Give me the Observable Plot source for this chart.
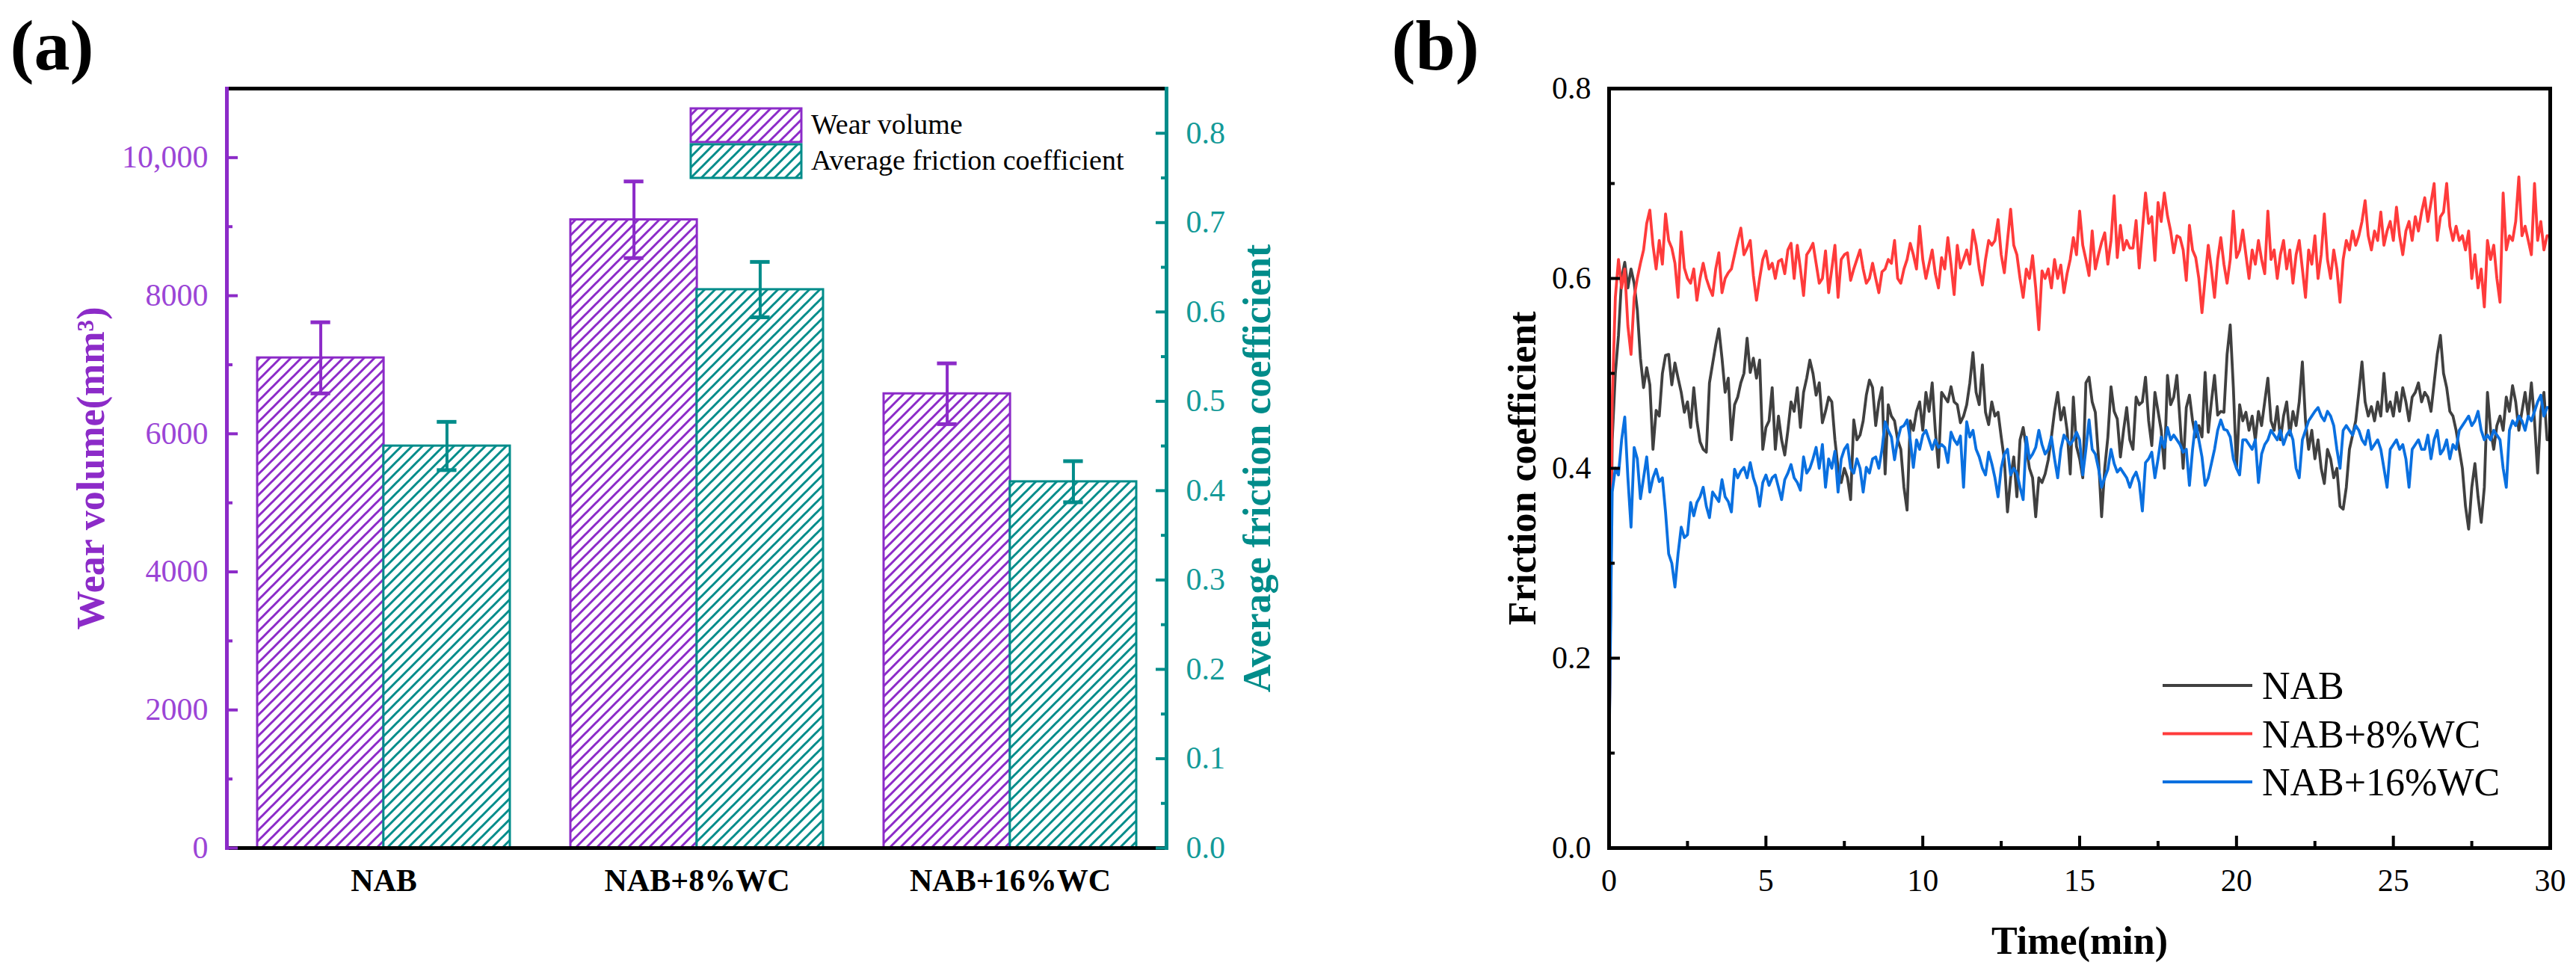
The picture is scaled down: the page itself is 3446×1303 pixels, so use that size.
<!DOCTYPE html>
<html><head><meta charset="utf-8">
<script src="https://cdn.jsdelivr.net/npm/d3@7"></script>
<script src="https://cdn.jsdelivr.net/npm/@observablehq/plot@0.6"></script>
<style>
html,body{margin:0;padding:0;background:#fff;}
#page{position:relative;width:3446px;height:1303px;overflow:hidden;background:#fff;}
#page svg{position:absolute;top:0;}
#page svg text{font-family:'Liberation Serif','Times New Roman',serif;}
</style></head><body><div id="page"></div>
<script>
// ---------- data: panel (a) ----------
const categories = ["NAB", "NAB+8%WC", "NAB+16%WC"];
const wearVolume = [7100, 9100, 6580];
const wearError = [515, 555, 440];
const avgFriction = [0.45, 0.625, 0.41];
const frictionError = [0.027, 0.031, 0.023];
const wearTicks = [0, 2000, 4000, 6000, 8000, 10000];
const wearMinorTicks = [1000, 3000, 5000, 7000, 9000];
const frictionTicks = [0, 0.1, 0.2, 0.3, 0.4, 0.5, 0.6, 0.7, 0.8];
const frictionMinorTicks = [0.05, 0.15, 0.25, 0.35, 0.45, 0.55, 0.65, 0.75];
const legendA = ["Wear volume", "Average friction coefficient"];

// ---------- data: panel (b) ----------
const seriesNames = ["NAB", "NAB+8%WC", "NAB+16%WC"];
const sampleStepMin = 0.1;
const timeTicks = [0, 5, 10, 15, 20, 25, 30];
const timeMinorTicks = [2.5, 7.5, 12.5, 17.5, 22.5, 27.5];
const coefTicks = [0, 0.2, 0.4, 0.6, 0.8];
const coefMinorTicks = [0.1, 0.3, 0.5, 0.7];
const nabCurve = [
0.10,0.43,0.50,0.54,0.60,0.617,0.59,0.61,0.595,0.567,
0.516,0.485,0.506,0.488,0.42,0.461,0.455,0.50,0.519,0.52,
0.488,0.511,0.495,0.48,0.459,0.47,0.443,0.485,0.45,0.428,
0.42,0.417,0.49,0.51,0.53,0.547,0.516,0.48,0.495,0.43,
0.467,0.475,0.49,0.50,0.537,0.501,0.516,0.495,0.514,0.42,
0.443,0.45,0.485,0.42,0.455,0.43,0.414,0.44,0.47,0.46,
0.485,0.443,0.48,0.495,0.514,0.50,0.477,0.49,0.448,0.46,
0.475,0.47,0.43,0.40,0.385,0.40,0.39,0.367,0.451,0.43,
0.435,0.45,0.477,0.493,0.485,0.445,0.47,0.485,0.394,0.467,
0.455,0.45,0.43,0.42,0.38,0.356,0.45,0.44,0.46,0.47,
0.44,0.48,0.46,0.49,0.44,0.401,0.48,0.475,0.47,0.486,
0.47,0.467,0.448,0.455,0.467,0.49,0.522,0.48,0.467,0.509,
0.459,0.446,0.47,0.455,0.459,0.433,0.409,0.354,0.39,0.412,
0.37,0.43,0.443,0.422,0.40,0.39,0.349,0.39,0.385,0.394,
0.409,0.433,0.46,0.48,0.451,0.464,0.44,0.394,0.475,0.423,
0.41,0.39,0.49,0.496,0.47,0.459,0.412,0.349,0.40,0.433,
0.486,0.46,0.452,0.412,0.44,0.464,0.43,0.42,0.475,0.467,
0.47,0.496,0.45,0.424,0.48,0.46,0.44,0.40,0.498,0.467,
0.475,0.498,0.45,0.40,0.464,0.477,0.45,0.433,0.445,0.433,
0.501,0.438,0.47,0.498,0.456,0.46,0.459,0.52,0.551,0.485,
0.40,0.467,0.45,0.459,0.44,0.455,0.43,0.46,0.445,0.47,
0.495,0.45,0.44,0.465,0.43,0.455,0.47,0.435,0.46,0.445,
0.47,0.512,0.45,0.42,0.44,0.41,0.43,0.40,0.384,0.42,
0.41,0.39,0.40,0.36,0.357,0.38,0.42,0.435,0.45,0.48,
0.512,0.47,0.455,0.465,0.45,0.47,0.455,0.50,0.46,0.47,
0.455,0.48,0.46,0.485,0.47,0.45,0.475,0.48,0.49,0.47,
0.48,0.475,0.46,0.49,0.52,0.54,0.50,0.485,0.46,0.455,
0.44,0.42,0.40,0.36,0.336,0.38,0.405,0.37,0.343,0.38,
0.48,0.44,0.42,0.445,0.455,0.44,0.475,0.46,0.487,0.47,
0.44,0.46,0.48,0.455,0.49,0.45,0.395,0.46,0.48,0.43,
0.43];
const wc8Curve = [
0.09,0.47,0.58,0.62,0.59,0.61,0.55,0.52,0.58,0.60,
0.616,0.63,0.658,0.672,0.635,0.61,0.64,0.615,0.668,0.64,
0.632,0.616,0.58,0.649,0.611,0.60,0.595,0.61,0.577,0.60,
0.616,0.60,0.59,0.582,0.61,0.627,0.585,0.60,0.606,0.61,
0.625,0.64,0.653,0.625,0.632,0.64,0.603,0.577,0.60,0.62,
0.629,0.61,0.616,0.60,0.618,0.62,0.605,0.63,0.637,0.60,
0.635,0.61,0.582,0.625,0.63,0.637,0.616,0.595,0.60,0.629,
0.585,0.61,0.635,0.58,0.62,0.625,0.627,0.598,0.61,0.62,
0.63,0.61,0.595,0.60,0.616,0.60,0.585,0.607,0.61,0.62,
0.616,0.64,0.60,0.595,0.61,0.62,0.637,0.625,0.61,0.655,
0.62,0.60,0.615,0.63,0.605,0.59,0.622,0.61,0.643,0.615,
0.583,0.635,0.611,0.62,0.63,0.615,0.651,0.635,0.61,0.593,
0.62,0.64,0.635,0.64,0.662,0.625,0.606,0.64,0.673,0.635,
0.625,0.60,0.58,0.61,0.60,0.624,0.59,0.546,0.608,0.60,
0.61,0.59,0.62,0.60,0.614,0.585,0.605,0.62,0.643,0.625,
0.671,0.635,0.62,0.603,0.65,0.61,0.625,0.638,0.648,0.615,
0.64,0.687,0.622,0.656,0.63,0.64,0.632,0.632,0.661,0.611,
0.65,0.69,0.658,0.665,0.619,0.68,0.66,0.69,0.666,0.65,
0.627,0.645,0.643,0.63,0.598,0.656,0.63,0.622,0.60,0.564,
0.60,0.635,0.61,0.58,0.62,0.643,0.615,0.595,0.62,0.671,
0.622,0.63,0.651,0.625,0.60,0.63,0.615,0.64,0.62,0.605,
0.671,0.62,0.63,0.60,0.625,0.64,0.61,0.63,0.595,0.625,
0.64,0.61,0.58,0.63,0.615,0.645,0.60,0.625,0.668,0.62,
0.60,0.63,0.61,0.575,0.62,0.64,0.63,0.65,0.635,0.645,
0.66,0.682,0.645,0.63,0.65,0.64,0.67,0.635,0.65,0.66,
0.64,0.675,0.645,0.625,0.65,0.66,0.64,0.665,0.65,0.67,
0.685,0.66,0.68,0.70,0.64,0.665,0.67,0.70,0.655,0.64,
0.655,0.64,0.645,0.63,0.65,0.60,0.625,0.59,0.61,0.57,
0.64,0.62,0.635,0.60,0.575,0.69,0.63,0.645,0.64,0.66,
0.707,0.645,0.655,0.64,0.625,0.70,0.64,0.66,0.63,0.645,
0.645];
const wc16Curve = [
0.10,0.375,0.40,0.393,0.43,0.454,0.39,0.338,0.422,0.41,
0.368,0.39,0.412,0.375,0.39,0.399,0.386,0.39,0.354,0.31,
0.30,0.275,0.31,0.338,0.327,0.33,0.364,0.35,0.364,0.37,
0.38,0.36,0.348,0.375,0.37,0.365,0.388,0.37,0.365,0.354,
0.399,0.39,0.397,0.401,0.39,0.406,0.39,0.38,0.36,0.385,
0.393,0.382,0.39,0.393,0.38,0.367,0.388,0.395,0.404,0.39,
0.385,0.377,0.412,0.395,0.40,0.41,0.422,0.40,0.425,0.38,
0.41,0.40,0.418,0.375,0.41,0.42,0.425,0.40,0.395,0.41,
0.40,0.375,0.401,0.395,0.41,0.412,0.40,0.42,0.449,0.44,
0.433,0.409,0.43,0.443,0.445,0.451,0.43,0.401,0.43,0.42,
0.435,0.44,0.43,0.42,0.43,0.422,0.425,0.422,0.406,0.438,
0.43,0.425,0.434,0.38,0.449,0.433,0.44,0.42,0.412,0.40,
0.393,0.417,0.405,0.39,0.37,0.40,0.415,0.42,0.393,0.40,
0.395,0.38,0.367,0.433,0.41,0.415,0.422,0.44,0.425,0.415,
0.42,0.433,0.41,0.39,0.42,0.435,0.43,0.425,0.43,0.438,
0.43,0.393,0.42,0.451,0.42,0.415,0.40,0.38,0.39,0.399,
0.42,0.405,0.396,0.40,0.395,0.39,0.38,0.39,0.396,0.385,
0.355,0.406,0.41,0.417,0.39,0.41,0.433,0.422,0.443,0.43,
0.435,0.43,0.425,0.417,0.42,0.382,0.42,0.449,0.43,0.412,
0.382,0.39,0.405,0.42,0.44,0.451,0.441,0.44,0.433,0.41,
0.40,0.393,0.43,0.43,0.425,0.42,0.43,0.385,0.415,0.425,
0.43,0.44,0.435,0.43,0.44,0.425,0.435,0.44,0.43,0.40,
0.39,0.43,0.44,0.45,0.455,0.46,0.464,0.455,0.45,0.46,
0.455,0.445,0.42,0.40,0.44,0.445,0.44,0.435,0.445,0.44,
0.43,0.425,0.44,0.42,0.425,0.43,0.42,0.40,0.38,0.42,
0.425,0.43,0.42,0.425,0.41,0.38,0.42,0.425,0.43,0.42,
0.42,0.435,0.41,0.43,0.44,0.415,0.42,0.43,0.41,0.425,
0.42,0.44,0.445,0.45,0.455,0.445,0.45,0.46,0.44,0.43,
0.435,0.43,0.44,0.435,0.43,0.40,0.38,0.44,0.45,0.445,
0.455,0.45,0.44,0.455,0.45,0.46,0.47,0.477,0.455,0.464,
0.464];

// ---------- styles ----------
const FONT = "'Liberation Serif','Times New Roman',serif";
const PURPLE = "#8C2BC8", PURPLE_TXT = "#9B45D6";
const TEAL = "#008C8A", TEAL_TXT = "#139A98";
const LINE_COLORS = ["#404040", "#FF3B3B", "#0A70E0"];
const H = 1303;
const page = document.getElementById("page");
const noText = () => "";

// ---------- panel (a) ----------
const WA = 1800, aL = 303, aR = 1560, fTop = 118, fBot = 1134;
const k = 11000 / 0.85;
const padIn = 0.194;
const step = (aR - aL) / categories.length;
const bw = step * (1 - padIn);
const capHalf = 13;
const rowsA = categories.map((c, i) => ({
  cat: c,
  wear: wearVolume[i], wLo: wearVolume[i] - wearError[i], wHi: wearVolume[i] + wearError[i],
  fric: avgFriction[i] * k, fLo: (avgFriction[i] - frictionError[i]) * k, fHi: (avgFriction[i] + frictionError[i]) * k
}));
const capsW = rowsA.flatMap(r => [{cat: r.cat, y: r.wLo}, {cat: r.cat, y: r.wHi}]);
const capsF = rowsA.flatMap(r => [{cat: r.cat, y: r.fLo}, {cat: r.cat, y: r.fHi}]);

const svgA = Plot.plot({
  width: WA, height: H,
  marginLeft: aL, marginRight: WA - aR, marginTop: fTop, marginBottom: H - fBot,
  style: {fontFamily: FONT, background: "transparent", overflow: "visible"},
  x: {type: "band", domain: categories, paddingInner: padIn, paddingOuter: padIn / 2, align: 0.5},
  y: {domain: [0, 11000]},
  marks: [
    Plot.barY(rowsA, {x: "cat", y: "wear", insetRight: bw / 2, fill: "url(#hatchWear)", stroke: PURPLE, strokeWidth: 3}),
    Plot.barY(rowsA, {x: "cat", y: "fric", insetLeft: bw / 2, fill: "url(#hatchFric)", stroke: TEAL, strokeWidth: 3}),
    Plot.ruleX(rowsA, {x: "cat", y1: "wLo", y2: "wHi", dx: -bw / 4, stroke: PURPLE, strokeWidth: 4}),
    Plot.ruleX(rowsA, {x: "cat", y1: "fLo", y2: "fHi", dx: bw / 4, stroke: TEAL, strokeWidth: 4}),
    Plot.tickY(capsW, {x: "cat", y: "y", insetLeft: bw / 4 - capHalf, insetRight: 3 * bw / 4 - capHalf, stroke: PURPLE, strokeWidth: 5}),
    Plot.tickY(capsF, {x: "cat", y: "y", insetLeft: 3 * bw / 4 - capHalf, insetRight: bw / 4 - capHalf, stroke: TEAL, strokeWidth: 5}),
    // frame sides
    Plot.frame({anchor: "top", stroke: "black", strokeWidth: 5}),
    Plot.frame({anchor: "bottom", stroke: "black", strokeWidth: 5}),
    Plot.frame({anchor: "left", stroke: PURPLE, strokeWidth: 5}),
    Plot.frame({anchor: "right", stroke: TEAL, strokeWidth: 5}),
    // left axis (inward ticks)
    Plot.axisY({ticks: wearTicks, tickSize: 15, dx: 15, tickFormat: noText, label: null, stroke: PURPLE, strokeWidth: 4}),
    Plot.axisY({ticks: wearMinorTicks, tickSize: 8, dx: 8, tickFormat: noText, label: null, stroke: PURPLE, strokeWidth: 4}),
    Plot.axisY({ticks: wearTicks, tickSize: 0, tickPadding: 25, label: null, fontSize: 42, fill: PURPLE_TXT,
      tickFormat: d => d === 10000 ? "10,000" : String(d)}),
    // right axis
    Plot.axisY({anchor: "right", ticks: frictionTicks.map(v => v * k), tickSize: 15, dx: -15, tickFormat: noText, label: null, stroke: TEAL, strokeWidth: 4}),
    Plot.axisY({anchor: "right", ticks: frictionMinorTicks.map(v => v * k), tickSize: 8, dx: -8, tickFormat: noText, label: null, stroke: TEAL, strokeWidth: 4}),
    Plot.axisY({anchor: "right", ticks: frictionTicks.map(v => v * k), tickSize: 0, tickPadding: 26, label: null, fontSize: 42, fill: TEAL_TXT,
      tickFormat: v => (v / k).toFixed(1)}),
    // category axis
    Plot.axisX({tickSize: 0, tickPadding: 28, label: null, fontSize: 42, fontWeight: "bold", fill: "black"}),
    // axis titles
    Plot.text(["Wear volume(mm³)"], {frameAnchor: "left", rotate: -90, textAnchor: "middle", dx: -165, lineAnchor: "bottom", fontSize: 52, fontWeight: "bold", fill: PURPLE}),
    Plot.text(["Average friction coefficient"], {frameAnchor: "right", rotate: -90, textAnchor: "middle", dx: 138, lineAnchor: "bottom", fontSize: 52, fontWeight: "bold", fill: TEAL}),
    Plot.text(["(a)"], {frameAnchor: "top-left", textAnchor: "start", lineAnchor: "bottom", dx: 13 - aL, dy: 92 - fTop, fontSize: 96, fontWeight: "bold", fill: "black"})
  ]
});
svgA.style.left = "0px";
page.appendChild(svgA);

function addHatch(svg, id, color) {
  const defs = d3.select(svg).insert("defs", ":first-child");
  const s = 14;
  const p = defs.append("pattern").attr("id", id).attr("patternUnits", "userSpaceOnUse").attr("width", s).attr("height", s);
  p.append("rect").attr("width", s).attr("height", s).attr("fill", "white");
  p.append("path").attr("d", `M-3,3L3,-3M0,${s}L${s},0M${s - 3},${s + 3}L${s + 3},${s - 3}`)
    .attr("stroke", color).attr("stroke-width", 3).attr("fill", "none");
}
addHatch(svgA, "hatchWear", PURPLE);
addHatch(svgA, "hatchFric", TEAL);

// ---------- panel (b) ----------
const BX = 1800, WB = 1646, bL = 2152, bR = 3411;
const lineRows = [nabCurve, wc8Curve, wc16Curve].map((arr, s) =>
  arr.map((f, i) => ({t: +(i * sampleStepMin).toFixed(1), f, series: seriesNames[s]})));

const svgB = Plot.plot({
  width: WB, height: H,
  marginLeft: bL - BX, marginRight: BX + WB - bR, marginTop: fTop, marginBottom: H - fBot,
  style: {fontFamily: FONT, background: "transparent", overflow: "visible"},
  x: {domain: [0, 30]},
  y: {domain: [0, 0.8]},
  marks: [
    ...lineRows.map((rows, s) => Plot.line(rows, {x: "t", y: "f", stroke: LINE_COLORS[s], strokeWidth: 3.8})),
    Plot.frame({stroke: "black", strokeWidth: 5}),
    Plot.axisY({ticks: coefTicks, tickSize: 15, dx: 15, tickFormat: noText, label: null, stroke: "black", strokeWidth: 4}),
    Plot.axisY({ticks: coefMinorTicks, tickSize: 8, dx: 8, tickFormat: noText, label: null, stroke: "black", strokeWidth: 4}),
    Plot.axisY({ticks: coefTicks, tickSize: 0, tickPadding: 24, label: null, fontSize: 42, fill: "black", tickFormat: v => v.toFixed(1)}),
    Plot.axisX({ticks: timeTicks, tickSize: 16, dy: -16, tickFormat: noText, label: null, stroke: "black", strokeWidth: 4}),
    Plot.axisX({ticks: timeMinorTicks, tickSize: 9, dy: -9, tickFormat: noText, label: null, stroke: "black", strokeWidth: 4}),
    Plot.axisX({ticks: timeTicks, tickSize: 0, tickPadding: 28, label: null, fontSize: 42, fill: "black", tickFormat: d => String(d)}),
    Plot.text(["Friction coefficient"], {frameAnchor: "left", rotate: -90, textAnchor: "middle", dx: 2053 - bL, lineAnchor: "bottom", fontSize: 52, fontWeight: "bold", fill: "black"}),
    Plot.text(["Time(min)"], {frameAnchor: "bottom", textAnchor: "middle", lineAnchor: "bottom", dy: 1275 - fBot, fontSize: 52, fontWeight: "bold", fill: "black"}),
    Plot.text(["(b)"], {frameAnchor: "top-left", textAnchor: "start", lineAnchor: "bottom", dx: 1861 - bL, dy: 92 - fTop, fontSize: 96, fontWeight: "bold", fill: "black"})
  ]
});
svgB.style.left = BX + "px";
page.appendChild(svgB);

// ---------- legends ----------
const leg = d3.select(page).append("svg")
  .attr("width", 3446).attr("height", H)
  .style("left", "0px").style("pointer-events", "none")
  .style("font-family", FONT);
// legend (a)
[["hatchWear", PURPLE, 145], ["hatchFric", TEAL, 193]].forEach(([id, col, y], i) => {
  leg.append("rect").attr("x", 924).attr("y", y).attr("width", 148).attr("height", 45)
    .attr("fill", `url(#${id})`).attr("stroke", col).attr("stroke-width", 3);
  leg.append("text").attr("x", 1085).attr("y", y + 34).attr("font-size", 38).attr("font-family", FONT).attr("fill", "black").text(legendA[i]);
});
// legend (b)
seriesNames.forEach((name, i) => {
  const y = 917 + i * 64.5;
  leg.append("line").attr("x1", 2893).attr("x2", 3013).attr("y1", y).attr("y2", y)
    .attr("stroke", LINE_COLORS[i]).attr("stroke-width", 4);
  leg.append("text").attr("x", 3026).attr("y", y + 18).attr("font-size", 52).attr("font-family", FONT).attr("fill", "black").text(name);
});
</script></body></html>
